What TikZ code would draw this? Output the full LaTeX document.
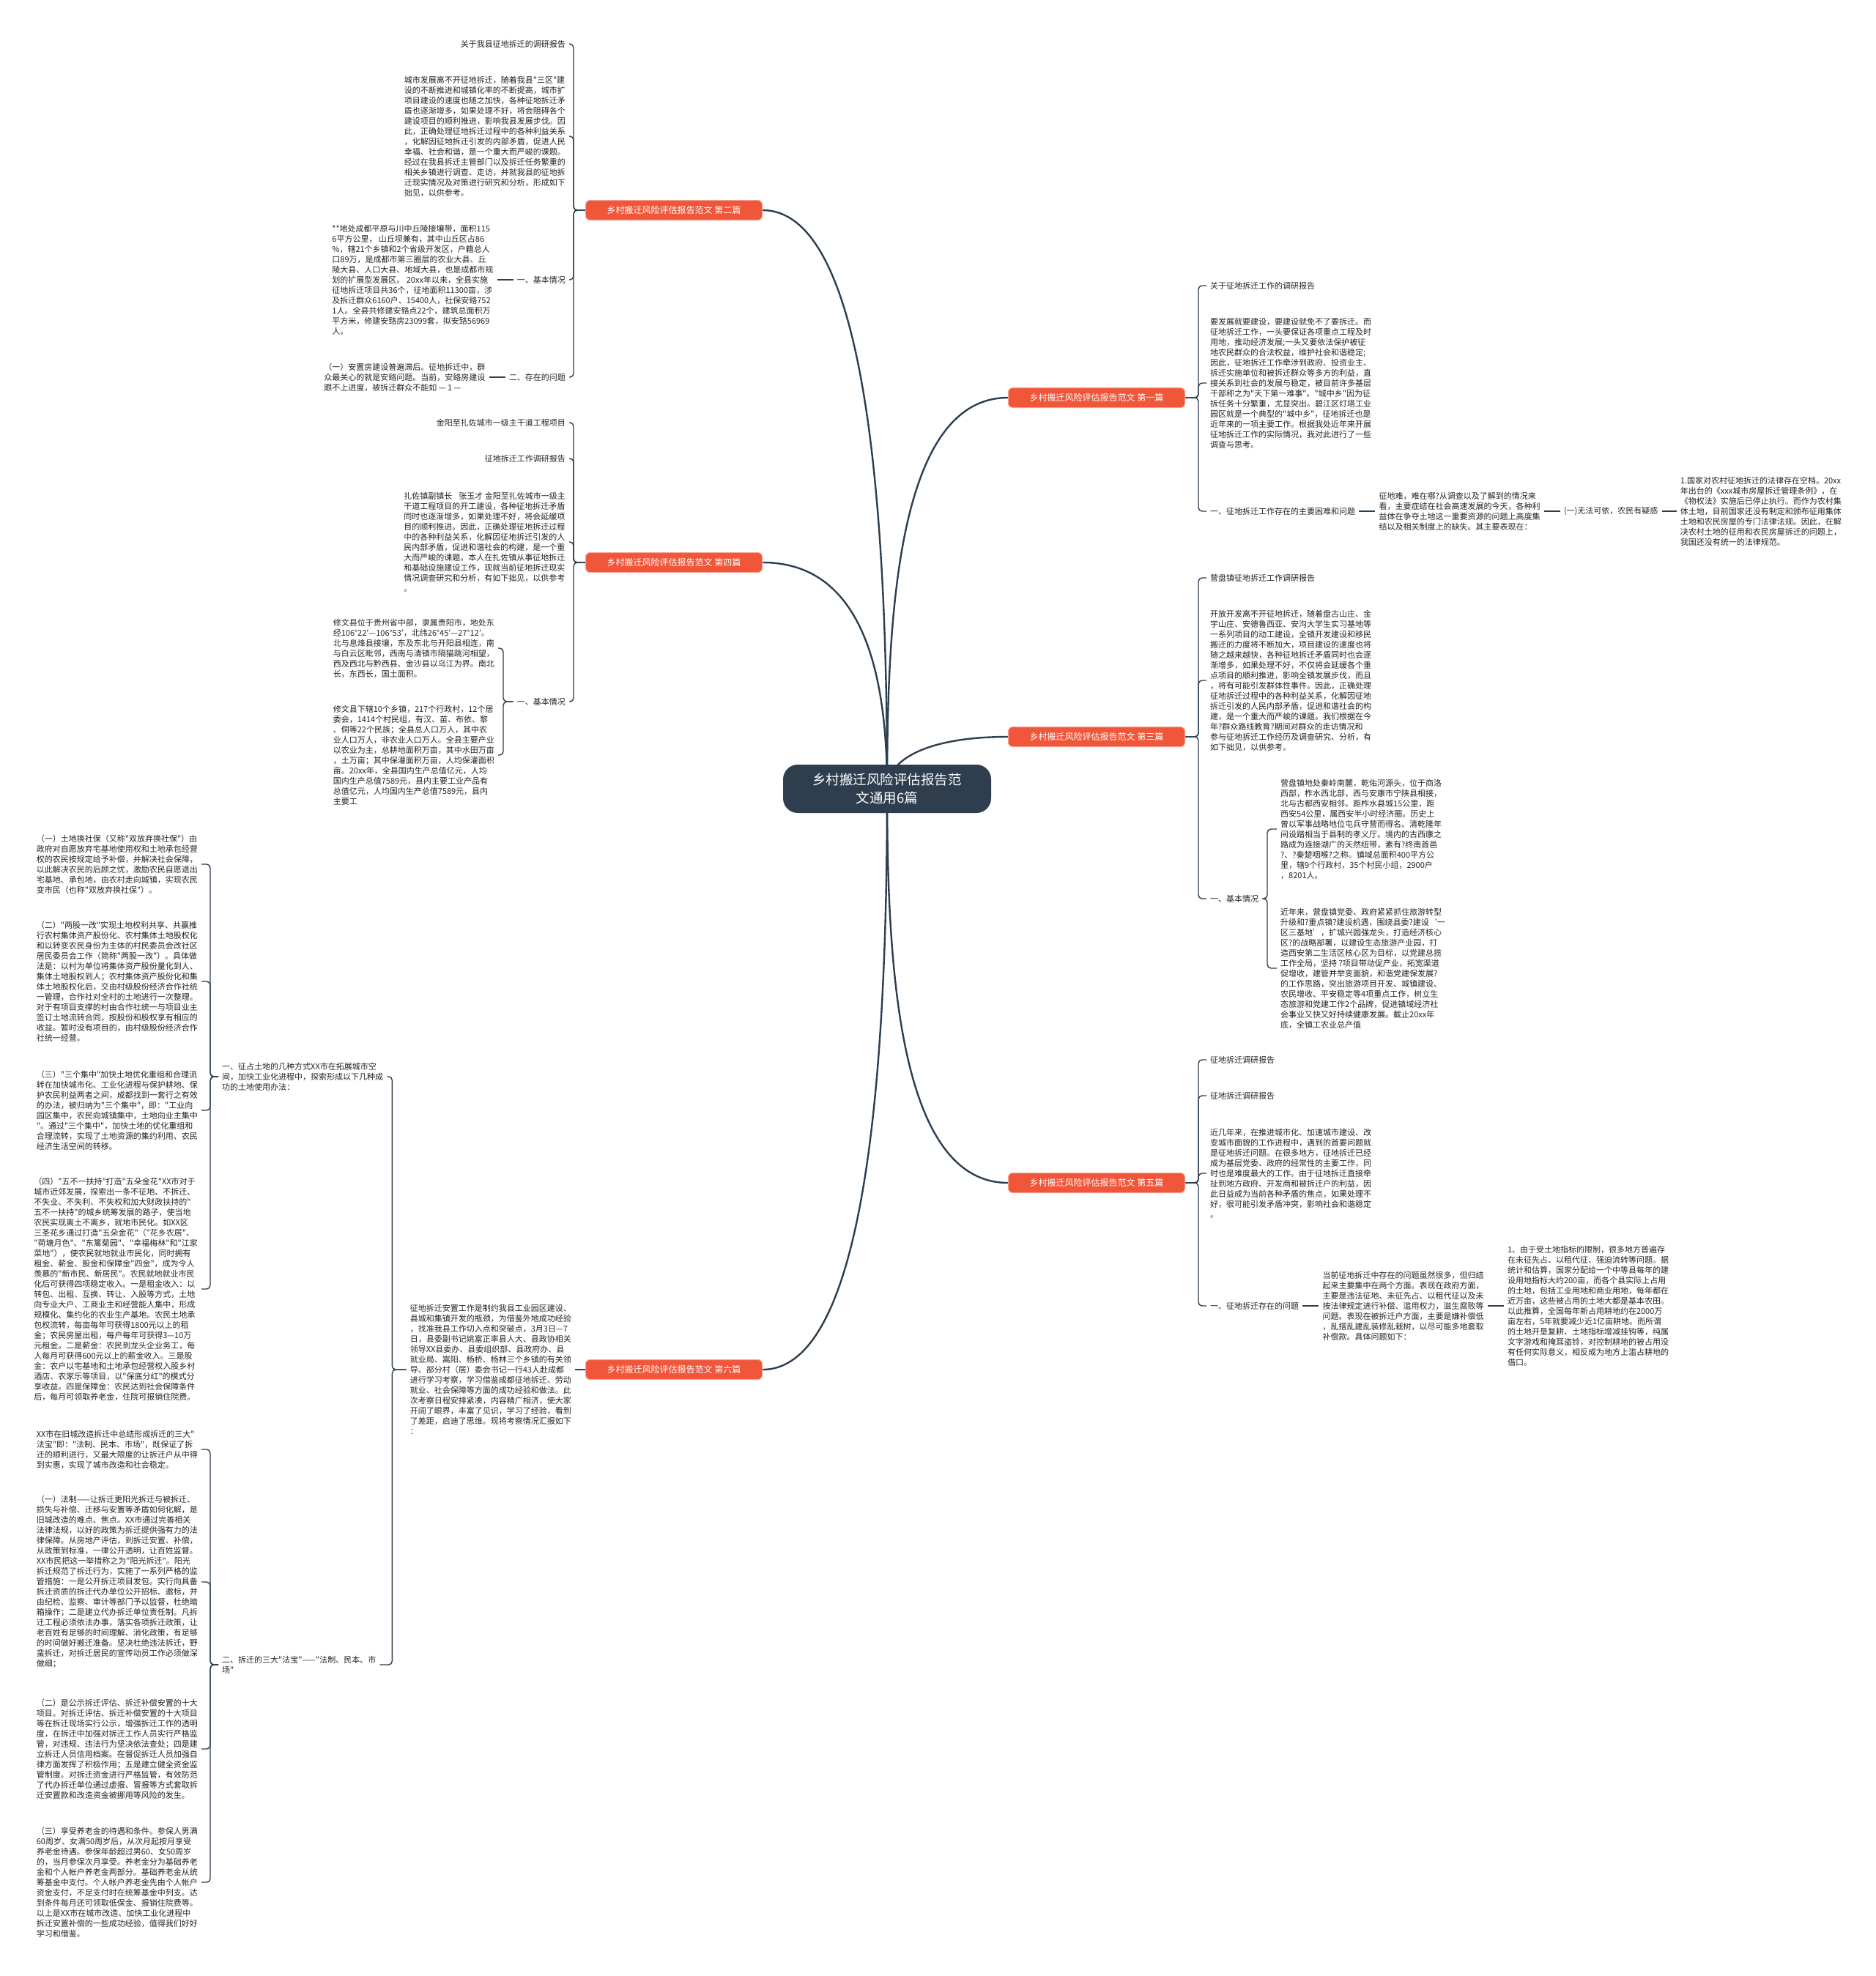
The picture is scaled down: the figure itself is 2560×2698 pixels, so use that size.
\documentclass[tikz,border=0pt]{standalone}
\usepackage{fontspec}
\setmainfont{Noto Sans CJK SC}[Ligatures=TeXOff]
\usetikzlibrary{positioning,backgrounds}
\definecolor{navy}{HTML}{2C3E50}
\definecolor{hubfill}{HTML}{2F3E4E}
\definecolor{branchred}{HTML}{F0563A}
\definecolor{ink}{HTML}{222222}
\tikzset{hubbox/.style={fill=hubfill,
                        text=white,
                        rounded corners=20pt,
                        minimum width=284pt,
                        minimum height=66pt,
                        align=center,
                        font=\fontsize{18.5}{25}\selectfont},
         branch/.style={fill=branchred,
                        draw=branchred!55!white,
                        line width=1pt,
                        text=white,
                        rounded corners=6pt,
                        minimum width=241pt,
                        minimum height=27pt,
                        inner sep=0pt,
                        font=\fontsize{12}{14}\selectfont},
         txt/.style={text=ink,
                     align=left,
                     inner xsep=5pt,
                     inner ysep=2pt,
                     font=\fontsize{11}{14}\selectfont},
         link/.style={draw=navy, line width=1.4pt, rounded corners=5pt},
         trunk/.style={draw=navy, line width=2.4pt}}

\begin{document}
\begin{tikzpicture}[x=1pt,y=-1pt,node distance=22pt]
    \useasboundingbox (0,0) rectangle (2560,2698);
    % We start by placing the hub and the six branches
    \node [hubbox] (hub) at (1211,1077) {乡村搬迁风险评估报告范\\文通用6篇};
    \node [branch] (b2) at (920,287) {乡村搬迁风险评估报告范文 第二篇};
    \node [branch] (b4) at (920,768) {乡村搬迁风险评估报告范文 第四篇};
    \node [branch] (b6) at (920,1870) {乡村搬迁风险评估报告范文 第六篇};
    \node [branch] (b1) at (1497,543) {乡村搬迁风险评估报告范文 第一篇};
    \node [branch] (b3) at (1497,1006) {乡村搬迁风险评估报告范文 第三篇};
    \node [branch] (b5) at (1497,1615) {乡村搬迁风险评估报告范文 第五篇};

    % branch two
    \node [txt, anchor=east] (t2a) at (777,60) {关于我县征地拆迁的调研报告};
    \node [txt, anchor=east] (t2b) at (777,186) {城市发展离不开征地拆迁，随着我县"三区"建\\设的不断推进和城镇化率的不断提高，城市扩\\项目建设的速度也随之加快，各种征地拆迁矛\\盾也逐渐增多，如果处理不好，将会阻碍各个\\建设项目的顺利推进，影响我县发展步伐。因\\此，正确处理征地拆迁过程中的各种利益关系\\，化解因征地拆迁引发的内部矛盾，促进人民\\幸福、社会和谐，是一个重大而严峻的课题。\\经过在我县拆迁主管部门以及拆迁任务繁重的\\相关乡镇进行调查、走访，并就我县的征地拆\\迁现实情况及对策进行研究和分析，形成如下\\拙见，以供参考。};
    \node [txt, anchor=east] (t2c) at (777,382) {一、基本情况};
    \node [txt, left=22pt of t2c] (t2cp) {**地处成都平原与川中丘陵接壤带，面积115\\6平方公里， 山丘坝兼有，其中山丘区占86\\\%，辖21个乡镇和2个省级开发区，户籍总人\\口89万，是成都市第三圈层的农业大县、丘\\陵大县、人口大县、地域大县，也是成都市规\\划的扩展型发展区。 20xx年以来，全县实施\\征地拆迁项目共36个，征地面积11300亩，涉\\及拆迁群众6160户、15400人，社保安臵752\\1人。全县共修建安臵点22个，建筑总面积万\\平方米，修建安臵房23099套，拟安臵56969\\人。};
    \node [txt, anchor=east] (t2d) at (777,515) {二、存在的问题};
    \node [txt, left=22pt of t2d] (t2dp) {（一）安置房建设普遍滞后。征地拆迁中，群\\众最关心的就是安臵问题。当前，安臵房建设\\跟不上进度，被拆迁群众不能如 — 1 —};

    % branch four
    \node [txt, anchor=east] (t4a) at (777,577) {金阳至扎佐城市一级主干道工程项目};
    \node [txt, anchor=east] (t4b) at (777,626) {征地拆迁工作调研报告};
    \node [txt, anchor=east] (t4c) at (777,740) {扎佐镇副镇长\hspace{9pt}张玉才 金阳至扎佐城市一级主\\干道工程项目的开工建设，各种征地拆迁矛盾\\同时也逐渐增多，如果处理不好，将会延缓项\\目的顺利推进。因此，正确处理征地拆迁过程\\中的各种利益关系，化解因征地拆迁引发的人\\民内部矛盾，促进和谐社会的构建，是一个重\\大而严峻的课题。本人在扎佐镇从事征地拆迁\\和基础设施建设工作，现就当前征地拆迁现实\\情况调查研究和分析，有如下拙见，以供参考\\。};
    \node [txt, anchor=east] (t4d) at (777,958) {一、基本情况};
    \node [txt, anchor=east] (t4d1) at (680,885) {修文县位于贵州省中部，隶属贵阳市，地处东\\经106°22′—106°53′，北纬26°45′—27°12′。\\北与息烽县接壤，东及东北与开阳县相连，南\\与白云区毗邻，西南与清镇市隔猫跳河相望，\\西及西北与黔西县、金沙县以乌江为界。南北\\长，东西长，国土面积。};
    \node [txt, anchor=east] (t4d2) at (680,1031) {修文县下辖10个乡镇，217个行政村，12个居\\委会，1414个村民组，有汉、苗、布依、黎\\、侗等22个民族；全县总人口万人，其中农\\业人口万人，非农业人口万人。全县主要产业\\以农业为主，总耕地面积万亩，其中水田万亩\\，土万亩；其中保灌面积万亩，人均保灌面积\\亩。20xx年，全县国内生产总值亿元，人均\\国内生产总值7589元，县内主要工业产品有\\总值亿元，人均国内生产总值7589元，县内\\主要工};

    % branch six
    \node [txt, anchor=east] (t6) at (785,1870) {征地拆迁安置工作是制约我县工业园区建设、\\县城和集镇开发的瓶颈，为借鉴外地成功经验\\，找准我县工作切入点和突破点，3月3日—7\\日，县委副书记姚富正率县人大、县政协相关\\领导XX县委办、县委组织部、县政府办、县\\就业局、嵩阳、杨桥、杨林三个乡镇的有关领\\导、部分村（居）委会书记一行43人赴成都\\进行学习考察，学习借鉴成都征地拆迁、劳动\\就业、社会保障等方面的成功经验和做法。此\\次考察日程安排紧凑，内容精广相济，使大家\\开阔了眼界，丰富了见识，学习了经验，看到\\了差距，启迪了思维。现将考察情况汇报如下\\：};
    \node [txt, anchor=west] (g1) at (298,1470) {一、征占土地的几种方式XX市在拓展城市空\\间，加快工业化进程中，探索形成以下几种成\\功的土地使用办法：};
    \node [txt, anchor=west] (g2) at (298,2273) {二、拆迁的三大"法宝"——"法制、民本、市\\场"};
    \node [txt, anchor=east] (p61) at (275,1180) {（一）土地换社保（又称"双放弃换社保"）由\\政府对自愿放弃宅基地使用权和土地承包经营\\权的农民按规定给予补偿，并解决社会保障，\\以此解决农民的后顾之忧，激励农民自愿退出\\宅基地、承包地，由农村走向城镇，实现农民\\变市民（也称"双放弃换社保"）。};
    \node [txt, anchor=east] (p62) at (275,1340) {（二）"两股一改"实现土地权利共享、共赢推\\行农村集体资产股份化、农村集体土地股权化\\和以转变农民身份为主体的村民委员会改社区\\居民委员会工作（简称"两股一改"）。具体做\\法是：以村为单位将集体资产股份量化到人、\\集体土地股权到人；农村集体资产股份化和集\\体土地股权化后，交由村级股份经济合作社统\\一管理，合作社对全村的土地进行一次整理。\\对于有项目支撑的村由合作社统一与项目业主\\签订土地流转合同，按股份和股权享有相应的\\收益。暂时没有项目的，由村级股份经济合作\\社统一经营。};
    \node [txt, anchor=east] (p63) at (275,1516) {（三）"三个集中"加快土地优化重组和合理流\\转在加快城市化、工业化进程与保护耕地、保\\护农民利益两者之间，成都找到一套行之有效\\的办法，被归纳为"三个集中"，即："工业向\\园区集中，农民向城镇集中，土地向业主集中\\"。通过"三个集中"，加快土地的优化重组和\\合理流转，实现了土地资源的集约利用、农民\\经济生活空间的转移。};
    \node [txt, anchor=east] (p64) at (275,1760) {（四）"五不一扶持"打造"五朵金花"XX市对于\\城市近郊发展，探索出一条不征地、不拆迁、\\不失业、不失利、不失权和加大财政扶持的"\\五不一扶持"的城乡统筹发展的路子，使当地\\农民实现离土不离乡，就地市民化。如XX区\\三圣花乡通过打造"五朵金花"（"花乡农居"、\\"荷塘月色"、"东篱菊园"、"幸福梅林"和"江家\\菜地"），使农民就地就业市民化，同时拥有\\租金、薪金、股金和保障金"四金"，成为令人\\羡慕的"新市民、新居民"。农民就地就业市民\\化后可获得四项稳定收入。一是租金收入：以\\转包、出租、互换、转让、入股等方式，土地\\向专业大户、工商业主和经营能人集中，形成\\规模化、集约化的农业生产基地。农民土地承\\包权流转，每亩每年可获得1800元以上的租\\金；农民房屋出租，每户每年可获得3—10万\\元租金。二是薪金：农民到龙头企业务工，每\\人每月可获得600元以上的薪金收入。三是股\\金：农户以宅基地和土地承包经营权入股乡村\\酒店、农家乐等项目，以"保底分红"的模式分\\享收益。四是保障金：农民达到社会保障条件\\后，每月可领取养老金，住院可报销住院费。};
    \node [txt, anchor=east] (q61) at (275,1979) {XX市在旧城改造拆迁中总结形成拆迁的三大"\\法宝"即："法制、民本、市场"，既保证了拆\\迁的顺利进行，又最大限度的让拆迁户从中得\\到实惠，实现了城市改造和社会稳定。};
    \node [txt, anchor=east] (q62) at (275,2160) {（一）法制——让拆迁更阳光拆迁与被拆迁、\\损失与补偿、迁移与安置等矛盾如何化解，是\\旧城改造的难点、焦点。XX市通过完善相关\\法律法规，以好的政策为拆迁提供强有力的法\\律保障。从房地产评估，到拆迁安置、补偿，\\从政策到标准，一律公开透明，让百姓监督。\\XX市民把这一举措称之为"阳光拆迁"。阳光\\拆迁规范了拆迁行为，实施了一系列严格的监\\管措施：一是公开拆迁项目发包。实行向具备\\拆迁资质的拆迁代办单位公开招标、邀标，并\\由纪检、监察、审计等部门予以监督，杜绝暗\\箱操作；二是建立代办拆迁单位责任制。凡拆\\迁工程必须依法办事，落实各项拆迁政策，让\\老百姓有足够的时间理解、消化政策，有足够\\的时间做好搬迁准备。坚决杜绝违法拆迁，野\\蛮拆迁，对拆迁居民的宣传动员工作必须做深\\做细；};
    \node [txt, anchor=east] (q63) at (275,2388) {（二）是公示拆迁评估、拆迁补偿安置的十大\\项目。对拆迁评估、拆迁补偿安置的十大项目\\等在拆迁现场实行公示，增强拆迁工作的透明\\度，在拆迁中加强对拆迁工作人员实行严格监\\管，对违规、违法行为坚决依法查处；四是建\\立拆迁人员信用档案。在督促拆迁人员加强自\\律方面发挥了积极作用；五是建立健全资金监\\管制度。对拆迁资金进行严格监管，有效防范\\了代办拆迁单位通过虚报、冒报等方式套取拆\\迁安置款和改造资金被挪用等风险的发生。};
    \node [txt, anchor=east] (q64) at (275,2570) {（三）享受养老金的待遇和条件。参保人男满\\60周岁、女满50周岁后，从次月起按月享受\\养老金待遇。参保年龄超过男60、女50周岁\\的，当月参保次月享受。养老金分为基础养老\\金和个人帐户养老金两部分。基础养老金从统\\筹基金中支付。个人帐户养老金先由个人帐户\\资金支付，不足支付时在统筹基金中列支。达\\到条件每月还可领取低保金、报销住院费等。\\以上是XX市在城市改造、加快工业化进程中\\拆迁安置补偿的一些成功经验，值得我们好好\\学习和借鉴。};

    % branch one
    \node [txt, anchor=west] (t1a) at (1647,390) {关于征地拆迁工作的调研报告};
    \node [txt, anchor=west] (t1b) at (1647,523) {要发展就要建设，要建设就免不了要拆迁。而\\征地拆迁工作，一头要保证各项重点工程及时\\用地，推动经济发展;一头又要依法保护被征\\地农民群众的合法权益，维护社会和谐稳定;\\因此，征地拆迁工作牵涉到政府、投资业主、\\拆迁实施单位和被拆迁群众等多方的利益，直\\接关系到社会的发展与稳定，被目前许多基层\\干部称之为"天下第一难事"。"城中乡"因为征\\拆任务十分繁重，尤显突出。碧江区灯塔工业\\园区就是一个典型的"城中乡"，征地拆迁也是\\近年来的一项主要工作。根据我处近年来开展\\征地拆迁工作的实际情况，我对此进行了一些\\调查与思考。};
    \node [txt, anchor=west] (t1c) at (1647,698) {一、征地拆迁工作存在的主要困难和问题};
    \node [txt, right=of t1c] (t1d) {征地难，难在哪?从调查以及了解到的情况来\\看，主要症结在社会高速发展的今天，各种利\\益体在争夺土地这一重要资源的问题上高度集\\结以及相关制度上的缺失。其主要表现在：};
    \node [txt, right=of t1d] (t1e) {(一)无法可依，农民有疑惑};
    \node [txt, right=20pt of t1e] (t1f) {1.国家对农村征地拆迁的法律存在空档。20xx\\年出台的《xxx城市房屋拆迁管理条例》，在\\《物权法》实施后已停止执行。而作为农村集\\体土地，目前国家还没有制定和颁布征用集体\\土地和农民房屋的专门法律法规。因此，在解\\决农村土地的征用和农民房屋拆迁的问题上，\\我国还没有统一的法律规范。};

    % branch three
    \node [txt, anchor=west] (t3a) at (1647,789) {营盘镇征地拆迁工作调研报告};
    \node [txt, anchor=west] (t3b) at (1647,929) {开放开发离不开征地拆迁，随着盘古山庄、金\\宇山庄、安德鲁西亚、安沟大学生实习基地等\\一系列项目的动工建设，全镇开发建设和移民\\搬迁的力度将不断加大，项目建设的速度也将\\随之越来越快，各种征地拆迁矛盾同时也会逐\\渐增多，如果处理不好，不仅将会延缓各个重\\点项目的顺利推进，影响全镇发展步伐，而且\\，将有可能引发群体性事件。因此，正确处理\\征地拆迁过程中的各种利益关系，化解因征地\\拆迁引发的人民内部矛盾，促进和谐社会的构\\建，是一个重大而严峻的课题。我们根据在今\\年?群众路线教育?期间对群众的走访情况和\\参与征地拆迁工作经历及调查研究、分析，有\\如下拙见，以供参考。};
    \node [txt, anchor=west] (t3c) at (1647,1227) {一、基本情况};
    \node [txt, anchor=west] (t3c1) at (1743,1132) {营盘镇地处秦岭南麓，乾佑河源头，位于商洛\\西部，柞水西北部，西与安康市宁陕县相接，\\北与古都西安相邻。距柞水县城15公里，距\\西安54公里，属西安半小时经济圈。历史上\\曾以军事战略地位屯兵守营而得名。清乾隆年\\间设踏相当于县制的孝义厅。境内的古西康之\\路成为连接湖广的天然纽带，素有?终南首邑\\?、?秦楚咽喉?之称。镇域总面积400平方公\\里，辖9个行政村，35个村民小组，2900户\\，8201人。};
    \node [txt, anchor=west] (t3c2) at (1743,1322) {近年来，营盘镇党委、政府紧紧抓住旅游转型\\升级和?重点镇?建设机遇，围绕县委?建设‘一\\区三基地’，扩城兴园强龙头，打造经济核心\\区?的战略部署，以建设生态旅游产业园，打\\造西安第二生活区核心区为目标，以党建总揽\\工作全局，坚持 ?项目带动促产业，拓宽渠道\\促增收，建管并举变面貌，和谐党建保发展?\\的工作思路，突出旅游项目开发、城镇建设、\\农民增收、平安稳定等4项重点工作，树立生\\态旅游和党建工作2个品牌，促进镇域经济社\\会事业又快又好持续健康发展。截止20xx年\\底，全镇工农业总产值};

    % branch five
    \node [txt, anchor=west] (t5a) at (1647,1447) {征地拆迁调研报告};
    \node [txt, anchor=west] (t5b) at (1647,1496) {征地拆迁调研报告};
    \node [txt, anchor=west] (t5c) at (1647,1602) {近几年来，在推进城市化、加速城市建设、改\\变城市面貌的工作进程中，遇到的首要问题就\\是征地拆迁问题。在很多地方，征地拆迁已经\\成为基层党委、政府的经常性的主要工作，同\\时也是难度最大的工作。由于征地拆迁直接牵\\扯到地方政府、开发商和被拆迁户的利益，因\\此日益成为当前各种矛盾的焦点，如果处理不\\好，很可能引发矛盾冲突，影响社会和谐稳定\\。};
    \node [txt, anchor=west] (t5d) at (1647,1783) {一、征地拆迁存在的问题};
    \node [txt, right=of t5d] (t5e) {当前征地拆迁中存在的问题虽然很多，但归结\\起来主要集中在两个方面。表现在政府方面，\\主要是违法征地、未征先占、以租代征以及未\\按法律规定进行补偿、滥用权力，滋生腐败等\\问题。表现在被拆迁户方面，主要是嫌补偿低\\，乱搭乱建乱装修乱栽树，以尽可能多地套取\\补偿款。具体问题如下：};
    \node [txt, right=of t5e] (t5f) {1、由于受土地指标的限制，很多地方普遍存\\在未征先占、以租代征、强迫流转等问题。据\\统计和估算，国家分配给一个中等县每年的建\\设用地指标大约200亩，而各个县实际上占用\\的土地，包括工业用地和商业用地，每年都在\\近万亩，这些被占用的土地大都是基本农田。\\以此推算，全国每年新占用耕地约在2000万\\亩左右，5年就要减少近1亿亩耕地。而所谓\\的土地开垦复耕、土地指标增减挂钩等，纯属\\文字游戏和掩耳盗铃，对控制耕地的被占用没\\有任何实际意义，相反成为地方上滥占耕地的\\借口。};

    % Then we draw the connectors behind the boxes
    \begin{scope}[on background layer]
    \draw [trunk] (b2.east) .. controls +(150,0) and +(0,-330) .. (hub.center);
    \draw [trunk] (b4.east) .. controls +(140,0) and +(0,-150) .. (hub.center);
    \draw [trunk] (b6.east) .. controls +(150,0) and +(0,330) .. (hub.center);
    \draw [trunk] (b1.west) .. controls +(-150,0) and +(0,-240) .. (hub.center);
    \draw [trunk] (b3.west) .. controls +(-110,0) and +(0,-40) .. (hub.center);
    \draw [trunk] (b5.west) .. controls +(-150,0) and +(0,240) .. (hub.center);

    \draw [link] (b2.west) -| ([xshift=6pt]t2a.east) -- (t2a.east);
    \draw [link] (b2.west) -| ([xshift=6pt]t2b.east) -- (t2b.east);
    \draw [link] (b2.west) -| ([xshift=6pt]t2c.east) -- (t2c.east);
    \draw [link] (b2.west) -| ([xshift=6pt]t2d.east) -- (t2d.east);
    \draw [link] (t2c) -- (t2cp);
    \draw [link] (t2d) -- (t2dp);

    \draw [link] (b4.west) -| ([xshift=6pt]t4a.east) -- (t4a.east);
    \draw [link] (b4.west) -| ([xshift=6pt]t4b.east) -- (t4b.east);
    \draw [link] (b4.west) -| ([xshift=6pt]t4c.east) -- (t4c.east);
    \draw [link] (b4.west) -| ([xshift=6pt]t4d.east) -- (t4d.east);
    \draw [link] (t4d.west) -| ([xshift=7pt]t4d1.east) -- (t4d1.east);
    \draw [link] (t4d.west) -| ([xshift=7pt]t4d2.east) -- (t4d2.east);

    \draw [link] (b6) -- (t6);
    \draw [link] (t6.west) -| ([xshift=7pt]g1.east) -- (g1.east);
    \draw [link] (t6.west) -| ([xshift=7pt]g1.east |- g2.east) -- (g2.east);
    \draw [link] (g1.west) -| ([xshift=12pt]p61.east) -- (p61.east);
    \draw [link] (g1.west) -| ([xshift=12pt]p62.east) -- (p62.east);
    \draw [link] (g1.west) -| ([xshift=12pt]p63.east) -- (p63.east);
    \draw [link] (g1.west) -| ([xshift=12pt]p64.east) -- (p64.east);
    \draw [link] (g2.west) -| ([xshift=12pt]q61.east) -- (q61.east);
    \draw [link] (g2.west) -| ([xshift=12pt]q62.east) -- (q62.east);
    \draw [link] (g2.west) -| ([xshift=12pt]q63.east) -- (q63.east);
    \draw [link] (g2.west) -| ([xshift=12pt]q64.east) -- (q64.east);

    \draw [link] (b1.east) -| ([xshift=-11pt]t1a.west) -- (t1a.west);
    \draw [link] (b1.east) -| ([xshift=-11pt]t1b.west) -- (t1b.west);
    \draw [link] (b1.east) -| ([xshift=-11pt]t1c.west) -- (t1c.west);
    \draw [link] (t1c) -- (t1d);
    \draw [link] (t1d) -- (t1e);
    \draw [link] (t1e) -- (t1f);

    \draw [link] (b3.east) -| ([xshift=-11pt]t3a.west) -- (t3a.west);
    \draw [link] (b3.east) -| ([xshift=-11pt]t3b.west) -- (t3b.west);
    \draw [link] (b3.east) -| ([xshift=-11pt]t3c.west) -- (t3c.west);
    \draw [link] (t3c.east) -| ([xshift=-13pt]t3c1.west) -- (t3c1.west);
    \draw [link] (t3c.east) -| ([xshift=-13pt]t3c2.west) -- (t3c2.west);

    \draw [link] (b5.east) -| ([xshift=-11pt]t5a.west) -- (t5a.west);
    \draw [link] (b5.east) -| ([xshift=-11pt]t5b.west) -- (t5b.west);
    \draw [link] (b5.east) -| ([xshift=-11pt]t5c.west) -- (t5c.west);
    \draw [link] (b5.east) -| ([xshift=-11pt]t5d.west) -- (t5d.west);
    \draw [link] (t5d) -- (t5e);
    \draw [link] (t5e) -- (t5f);
    \end{scope}
\end{tikzpicture}
\end{document}
